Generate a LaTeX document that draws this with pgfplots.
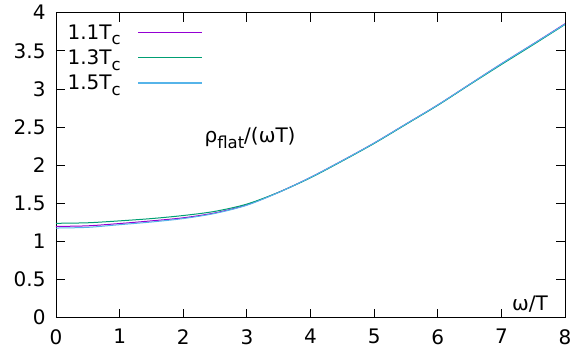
\documentclass[border=0pt]{standalone}
\usepackage{fontspec}
\setmainfont{DejaVu Sans}
\usepackage{pgfplots}
\pgfplotsset{compat=1.18}
\definecolor{cpurple}{HTML}{9400D3}
\definecolor{cgreen}{HTML}{009E73}
\definecolor{cblue}{HTML}{56B4E9}
\newcommand\sub[1]{\raisebox{-0.28em}{\fontsize{16.5bp}{17bp}\selectfont #1}}
\begin{document}
\begin{tikzpicture}
\useasboundingbox (-56bp,-40bp) rectangle (518bp,317.7bp);
\begin{axis}[
  at={(0,0)}, anchor=south west,
  scale only axis, width=509bp, height=305bp,
  xmin=0, xmax=8, ymin=0, ymax=4,
  xtick={0,1,...,8}, ytick={0,0.5,...,4},
  tick align=inside, major tick length=9bp,
  axis line style={line width=0.9bp},
  every tick/.style={black, line width=0.9bp},
  /pgf/number format/assume math mode=true,
  tick label style={font=\fontsize{20bp}{24bp}\selectfont},
  yticklabel style={xshift=-7bp},
  xticklabel style={yshift=-8bp},
  legend plot pos=right,
  legend cell align=left,
  legend style={at={(axis cs:0.1,3.9)}, anchor=north west, draw=none, fill=none,
    font=\fontsize{20bp}{24bp}\selectfont, row sep=5bp,
    /tikz/every odd column/.append style={column sep=15bp}},
  legend image code/.code={\draw[#1, line width=1.3bp] (0bp,0bp) -- (64bp,0bp);},
]
\addplot[cpurple, line width=1bp, smooth] coordinates {
(0,1.197) (0.5,1.205) (1,1.235) (1.5,1.27) (2,1.31) (2.5,1.375) (3,1.48) (3.5,1.645)
(4,1.84) (4.5,2.06) (5,2.29) (5.5,2.54) (6,2.79) (6.5,3.06) (7,3.33) (7.5,3.59) (8,3.855)};
\addlegendentry{1.1T\sub{c}}
\addplot[cgreen, line width=1bp, smooth] coordinates {
(0,1.238) (0.5,1.245) (1,1.27) (1.5,1.30) (2,1.34) (2.5,1.395) (3,1.49) (3.5,1.645)
(4,1.835) (4.5,2.055) (5,2.285) (5.5,2.535) (6,2.785) (6.5,3.055) (7,3.32) (7.5,3.58) (8,3.845)};
\addlegendentry{1.3T\sub{c}}
\addplot[cblue, line width=1bp, smooth] coordinates {
(0,1.176) (0.5,1.185) (1,1.22) (1.5,1.255) (2,1.30) (2.5,1.368) (3,1.475) (3.5,1.643)
(4,1.84) (4.5,2.06) (5,2.29) (5.5,2.54) (6,2.79) (6.5,3.06) (7,3.33) (7.5,3.59) (8,3.85)};
\addlegendentry{1.5T\sub{c}}
\node[font=\fontsize{20bp}{24bp}\selectfont] at (axis cs:3.05,2.36) {ρ\sub{flat}/(ωT)};
\node[font=\fontsize{20bp}{24bp}\selectfont] at (axis cs:7.45,0.18) {ω/T};
\end{axis}
\end{tikzpicture}
\end{document}
